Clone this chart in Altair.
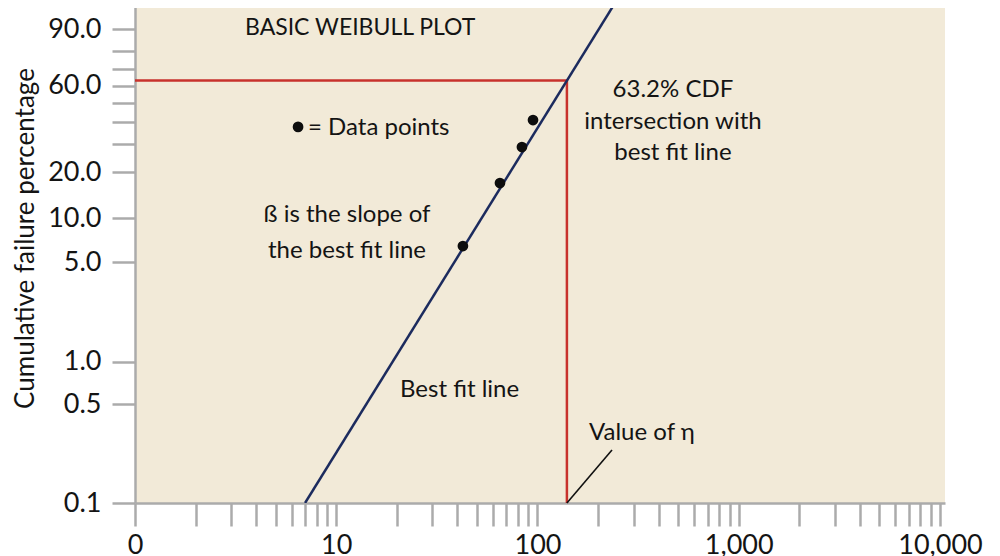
import math
import json
import altair as alt
import pandas as pd

# ---------------- data ----------------
# x axis (log scale) ticks
x_major = [1, 10, 100, 1000, 10000]
x_major_labels = ["0", "10", "100", "1,000", "10,000"]
x_minor_mult = [2, 3, 4, 5, 6, 7, 8, 9]

# y axis (Weibull probability scale) ticks, in percent
y_tick_pct = [0.1, 0.5, 1.0, 5.0, 10.0, 20.0, 30.0, 40.0, 50.0, 60.0, 70.0, 80.0, 90.0]
y_label_pct = [0.1, 0.5, 1.0, 5.0, 10.0, 20.0, 60.0, 90.0]
y_domain_pct = [0.1, 97.6]
x_domain = [1, 10590]

# data points
pts_x = [42.6, 65.1, 83.7, 95.0]
pts_pct = [6.46, 17.06, 28.62, 40.79]

# best fit line end points
fit_x = [7.0, 248.0]
fit_pct = [0.1, 97.6]

# characteristic life and 63.2% CDF guide
eta = 140.0
cdf_pct = 63.2
guide_x = [1, eta, eta]
guide_pct = [cdf_pct, cdf_pct, 0.1]

# leader line for "Value of eta"
leader_x = [eta, 234.5]
leader_pct = [0.1, 0.2376]

# legend dot
legend_dot_x = [6.46]
legend_dot_pct = [37.4]

# annotations: text, x, pct, align, lineHeight
ann_text = ["BASIC WEIBULL PLOT", "= Data points",
            "63.2% CDF\nintersection with\nbest fit line",
            "ß is the slope of\nthe best fit line",
            "Best fit line", "Value of η"]
ann_x = [3.52, 7.24, 471.0, 11.31, 20.74, 180.3]
ann_pct = [87.8, 33.6, 53.4, 9.42, 0.565, 0.280]
ann_align = ["left", "left", "center", "center", "left", "left"]
ann_lh = [30, 30, 31.5, 36, 30, 30]
ann_size = [23, 24, 24, 24, 24, 24]

# ---------------- styling ----------------
FONT = "Lato"
BG = "#f2ead8"
GRAY = "#ababab"
RED = "#c8322c"
NAVY = "#1c2b5e"
TXT = "#141414"


def wb(p):
    return math.log(-math.log(1 - p / 100.0))


x_ticks = []
for d in [1, 10, 100, 1000]:
    x_ticks.append(d)
    for m in x_minor_mult:
        x_ticks.append(d * m)
x_ticks.append(10000)

y_tick_w = [wb(p) for p in y_tick_pct]
y_tick_lab = [(f"{p:.1f}" if p in y_label_pct else "") for p in y_tick_pct]

x_label_expr = (
    f"indexof({json.dumps(x_major)}, datum.value) >= 0 ? "
    f"{json.dumps(x_major_labels)}[indexof({json.dumps(x_major)}, datum.value)] : ''"
)
y_label_expr = (
    f"indexof({json.dumps(y_tick_w)}, datum.value) >= 0 ? "
    f"{json.dumps(y_tick_lab)}[indexof({json.dumps(y_tick_w)}, datum.value)] : ''"
)

x_axis = alt.Axis(
    values=x_ticks, labelExpr=x_label_expr, title=None, grid=False,
    tickSize=23, tickWidth=2.5, tickColor=GRAY, domainColor=GRAY, domainWidth=2.5,
    labelFont=FONT, labelFontSize=27, labelColor=TXT, labelPadding=6,
    labelFlush=False, labelOverlap=False,
)
y_axis = alt.Axis(
    values=y_tick_w, labelExpr=y_label_expr, title="Cumulative failure percentage",
    grid=False, tickSize=23, tickWidth=2.5, tickColor=GRAY, domainColor=GRAY,
    domainWidth=2.5, labelFont=FONT, labelFontSize=27, labelColor=TXT,
    labelPadding=11, labelOverlap=False,
    titleFont=FONT, titleFontSize=26, titleFontWeight="normal", titleColor=TXT,
    titleAngle=270, titleX=-102, titleY=238, titleAlign="center",
    titleBaseline="alphabetic",
)

x_scale = alt.Scale(type="log", domain=x_domain, nice=False)
y_scale = alt.Scale(domain=[wb(y_domain_pct[0]), wb(y_domain_pct[1])], nice=False, zero=False)


def X():
    return alt.X("x:Q", scale=x_scale, axis=x_axis)


def Y():
    return alt.Y("w:Q", scale=y_scale, axis=y_axis)


guide_df = pd.DataFrame({"x": guide_x, "w": [wb(p) for p in guide_pct], "o": [0, 1, 2]})
fit_df = pd.DataFrame({"x": fit_x, "w": [wb(p) for p in fit_pct], "o": [0, 1]})
leader_df = pd.DataFrame({"x": leader_x, "w": [wb(p) for p in leader_pct], "o": [0, 1]})
pts_df = pd.DataFrame({"x": pts_x + legend_dot_x,
                       "w": [wb(p) for p in pts_pct + legend_dot_pct]})

guide = alt.Chart(guide_df).mark_line(color=RED, strokeWidth=2.5, clip=True).encode(
    x=X(), y=Y(), order="o:Q")
fit = alt.Chart(fit_df).mark_line(color=NAVY, strokeWidth=2.5, clip=True).encode(
    x=X(), y=Y(), order="o:Q")
leader = alt.Chart(leader_df).mark_line(color="#111111", strokeWidth=1.6).encode(
    x=X(), y=Y(), order="o:Q")
pts = alt.Chart(pts_df).mark_circle(color="#0d0d0d", size=115, opacity=1).encode(
    x=X(), y=Y())

texts = []
for t, xv, pv, al, lh, fs in zip(ann_text, ann_x, ann_pct, ann_align, ann_lh, ann_size):
    df = pd.DataFrame({"x": [xv], "w": [wb(pv)], "t": [t]})
    texts.append(
        alt.Chart(df).mark_text(
            font=FONT, fontSize=fs, color=TXT, align=al, baseline="alphabetic",
            lineBreak="\n", lineHeight=lh,
        ).encode(x=X(), y=Y(), text="t:N")
    )

chart = alt.layer(guide, fit, leader, pts, *texts).properties(
    width=810, height=503,
    padding={"left": 127, "top": -8, "right": 47, "bottom": 53},
    autosize=alt.AutoSizeParams(type="none"),
    background="white",
).configure_view(fill=BG, strokeWidth=0)

chart.save("out.html", embed_options={"renderer": "svg", "actions": False})
